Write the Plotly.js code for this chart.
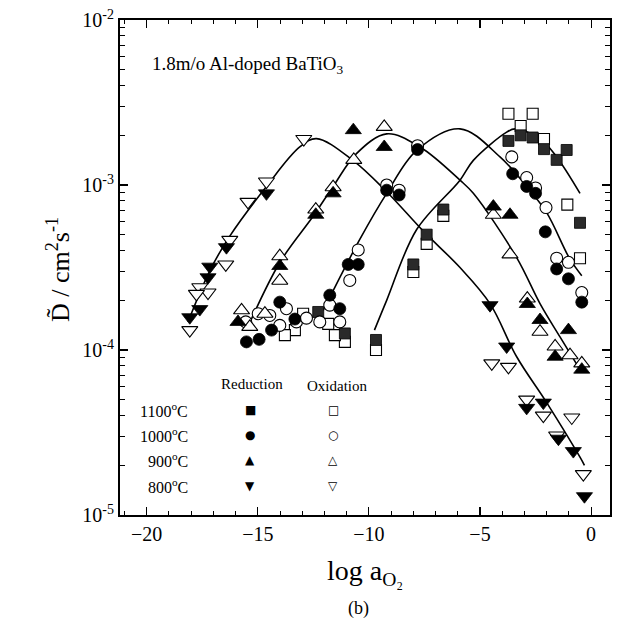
<!DOCTYPE html>
<html><head><meta charset="utf-8">
<script src="https://cdn.plot.ly/plotly-3.0.1.min.js"></script>
<style>body{margin:0;background:#fff}#c{width:621px;height:626px}</style>
</head><body><div id="c"></div>
<script>
// ---- data (log a_O2 , D in cm^2/s) ----
const x800red=[-14.61,-16.41,-17.16,-17.24,-17.61,-18.06,-4.55,-3.80,-2.90,-2.15,-1.47,-0.80,-0.30];
const y800red=[8.9e-4,4.2e-4,3.2e-4,2.76e-4,1.77e-4,1.58e-4,1.87e-4,1.05e-4,4.46e-5,4.8e-5,2.9e-5,2.44e-5,1.3e-5];
const x800ox=[-12.93,-14.61,-15.44,-16.26,-16.44,-17.61,-17.24,-17.76,-18.06,-4.47,-3.72,-2.90,-2.15,-0.87,-1.55,-0.35];
const y800ox=[1.9e-3,1.05e-3,7.9e-4,4.65e-4,3.3e-4,2.4e-4,2.23e-4,2.19e-4,1.32e-4,8.3e-5,7.9e-5,5.0e-5,4.0e-5,3.9e-5,3.03e-5,1.77e-5];
const x900red=[-14.01,-15.89,-10.70,-9.31,-11.61,-12.39,-4.40,-3.65,-2.87,-2.30,-1.02,-1.62,-0.42];
const y900red=[3.23e-4,1.48e-4,2.15e-3,1.7e-3,8.9e-4,6.6e-4,7.4e-4,6.6e-4,1.9e-4,1.52e-4,1.32e-4,9.1e-5,7.6e-5];
const x900ox=[-14.01,-14.01,-15.73,-15.36,-14.68,-9.31,-10.68,-11.61,-12.39,-4.40,-3.65,-2.87,-2.30,-1.62,-0.95,-0.42];
const y900ox=[3.7e-4,2.63e-4,1.74e-4,1.38e-4,1.66e-4,2.25e-3,1.42e-3,9.7e-4,7.1e-4,6.6e-4,3.8e-4,2.05e-4,1.29e-4,1.05e-4,9.3e-5,8.3e-5];
const x1000red=[-14.01,-15.51,-14.94,-14.38,-13.33,-11.76,-11.31,-10.93,-10.48,-9.20,-8.64,-7.81,-3.53,-2.90,-2.50,-2.06,-1.55,-1.02,-0.42];
const y1000red=[1.95e-4,1.12e-4,1.16e-4,1.32e-4,1.54e-4,2.15e-4,1.78e-4,3.3e-4,3.3e-4,9.3e-4,8.7e-4,1.64e-3,1.17e-3,9.8e-4,8.9e-4,5.2e-4,3.1e-4,2.7e-4,1.95e-4];
const x1000ox=[-13.71,-14.98,-14.46,-15.54,-14.01,-13.26,-12.81,-12.21,-11.76,-11.31,-10.48,-10.86,-9.20,-8.64,-7.81,-3.57,-2.90,-2.50,-2.03,-1.55,-1.02,-0.42];
const y1000ox=[1.78e-4,1.66e-4,1.62e-4,1.48e-4,1.41e-4,1.48e-4,1.56e-4,1.48e-4,1.87e-4,1.48e-4,4.04e-4,2.64e-4,1.0e-3,9.3e-4,1.73e-3,1.48e-3,1.11e-3,9.6e-4,7.3e-4,3.6e-4,3.4e-4,2.23e-4];
const x1100red=[-12.28,-11.08,-9.68,-8.0,-7.40,-6.65,-3.17,-3.72,-2.63,-2.12,-1.55,-1.10,-0.50];
const y1100red=[1.70e-4,1.26e-4,1.15e-4,3.3e-4,5.0e-4,7.1e-4,2.0e-3,1.85e-3,1.94e-3,1.65e-3,1.42e-3,1.63e-3,5.9e-4];
const x1100ox=[-12.96,-13.33,-13.78,-11.83,-11.08,-11.53,-9.68,-8.0,-7.40,-6.65,-3.72,-2.63,-3.17,-2.12,-1.07,-0.50];
const y1100ox=[1.66e-4,1.32e-4,1.23e-4,1.44e-4,1.12e-4,1.23e-4,1.0e-4,2.97e-4,4.4e-4,6.5e-4,2.7e-3,2.7e-3,2.28e-3,1.9e-3,7.6e-4,3.6e-4];
// fitted curves
const xFit800=[-18.14,-17.16,-16.26,-14.61,-13.11,-12.36,-10.72,-9.20,-7.55,-5.90,-4.55,-3.35,-2.0,-0.5,-0.30];
const yFit800=[1.48e-4,3.02e-4,4.9e-4,9.8e-4,1.70e-3,1.91e-3,1.41e-3,9.1e-4,5.25e-4,3.16e-4,1.91e-4,9.1e-5,4.8e-5,2.24e-5,2.0e-5];
const xFit900=[-15.51,-14.01,-12.51,-11.61,-10.56,-9.20,-7.70,-5.90,-5.30,-3.35,-2.30,-1.40,-0.5];
const yFit900=[1.32e-4,3.39e-4,6.46e-4,9.8e-4,1.55e-3,2.04e-3,1.70e-3,1.07e-3,8.9e-4,3.63e-4,1.91e-4,1.20e-4,7.6e-5];
const xFit1000=[-12.06,-11.76,-10.41,-9.20,-7.85,-5.90,-4.10,-2.90,-2.0,-0.95,-0.42];
const yFit1000=[1.74e-4,2.09e-4,4.68e-4,8.9e-4,1.62e-3,2.19e-3,1.48e-3,9.8e-4,6.8e-4,3.55e-4,2.82e-4];
const xFit1100=[-9.75,-9.20,-7.85,-5.90,-5.30,-3.80,-3.42,-2.30,-1.55,-0.50];
const yFit1100=[1.32e-4,2.0e-4,5.37e-4,1.07e-3,1.41e-3,2.09e-3,2.19e-3,1.91e-3,1.48e-3,8.9e-4];
const tempLabels=["1100°C","1000°C","900°C","800°C"];
const xTickVals=[-20,-15,-10,-5,0];
const yTickVals=[1e-5,1e-4,1e-3,1e-2];
const yTickText=["10<sup>-5</sup>","10<sup>-4</sup>","10<sup>-3</sup>","10<sup>-2</sup>"];

// ---- drawing ----
const SERIF="Liberation Serif, Times New Roman, serif";
const traces=[];
[[xFit800,yFit800],[xFit900,yFit900],[xFit1000,yFit1000],[xFit1100,yFit1100]].forEach(([x,y])=>{
  traces.push({x,y,mode:'lines',line:{color:'#000',width:1.6,shape:'spline',smoothing:1},hoverinfo:'skip'});
});
function pts(x,y,sym,filled,size,col){
  traces.push({x,y,mode:'markers',marker:{symbol:sym,size:size,
    color:filled?(col||'#000'):'#fff',line:{color:'#000',width:filled?0.8:1.1}}});
}
pts(x1100ox,y1100ox,'square',false,11);
pts(x1100red,y1100red,'square',true,11,'#2a2a2a');
pts(x1000ox,y1000ox,'circle',false,12);
pts(x1000red,y1000red,'circle',true,12);
pts(x900ox,y900ox,'triangle-up',false,14);
pts(x900red,y900red,'triangle-up',true,14);
pts(x800ox,y800ox,'triangle-down',false,14);
pts(x800red,y800red,'triangle-down',true,14);

const L=120,R=610,T=20,B=515;
const px=v=>(v-L)/(R-L), py=v=>(B-v)/(B-T);
const ann=[];
function txt(t,x,y,size,xa,extra){ann.push(Object.assign({text:t,xref:'paper',yref:'paper',x:px(x),y:py(y),
  xanchor:xa||'center',yanchor:'middle',showarrow:false,font:{family:SERIF,size:size,color:'#000'}},extra||{}));}
txt("1.8m/o Al-doped BaTiO<sub>3</sub>",150,65,19,'left');
txt("Reduction",252,384,15);
txt("Oxidation",337,386,15);
const rowY=[410,435,460,486];
const filledG=["■","●","▲","▼"], openG=["□","○","△","▽"];
tempLabels.forEach((t,i)=>{
  const parts=t.split("°");
  txt(parts[0]+"<sup>o</sup>"+parts[1],190,rowY[i],16,'right');
  ann.push({text:filledG[i],xref:'paper',yref:'paper',x:px(250),y:py(rowY[i]),xanchor:'center',yanchor:'middle',showarrow:false,font:{family:'DejaVu Sans',size:12,color:'#000'}});
  ann.push({text:openG[i],xref:'paper',yref:'paper',x:px(333),y:py(rowY[i]),xanchor:'center',yanchor:'middle',showarrow:false,font:{family:'DejaVu Sans',size:12,color:'#000'}});
});
txt("D\u0303 / cm<sup>2</sup>s<sup>-1</sup>",58,270,26,'center',{textangle:-90});
txt("log a<sub>O₂</sub>",365,572,28);
txt("(b)",358,608,18);

const layout={width:621,height:626,margin:{l:L,r:621-R,t:T,b:626-B},
  paper_bgcolor:'#fff',plot_bgcolor:'#fff',showlegend:false,
  font:{family:SERIF,color:'#000'},
  xaxis:{range:[-21.2,0.85],tickvals:xTickVals,ticks:'inside',ticklen:8,tickwidth:1.2,tickcolor:'#000',
    showline:true,linewidth:2,linecolor:'#000',mirror:'ticks',showgrid:false,zeroline:false,
    tickfont:{family:SERIF,size:20},
    minor:{dtick:1,ticks:'inside',ticklen:4,tickcolor:'#000',tickwidth:1,showgrid:false}},
  yaxis:{type:'log',range:[-5,-2],tickvals:yTickVals,ticktext:yTickText,ticks:'inside',ticklen:8,tickwidth:1.2,tickcolor:'#000',
    showline:true,linewidth:2,linecolor:'#000',mirror:'ticks',showgrid:false,zeroline:false,
    tickfont:{family:SERIF,size:20},
    minor:{dtick:'D1',ticks:'inside',ticklen:5,tickcolor:'#000',tickwidth:1,showgrid:false}},
  annotations:ann};
Plotly.newPlot('c',traces,layout,{staticPlot:true});
</script></body></html>
